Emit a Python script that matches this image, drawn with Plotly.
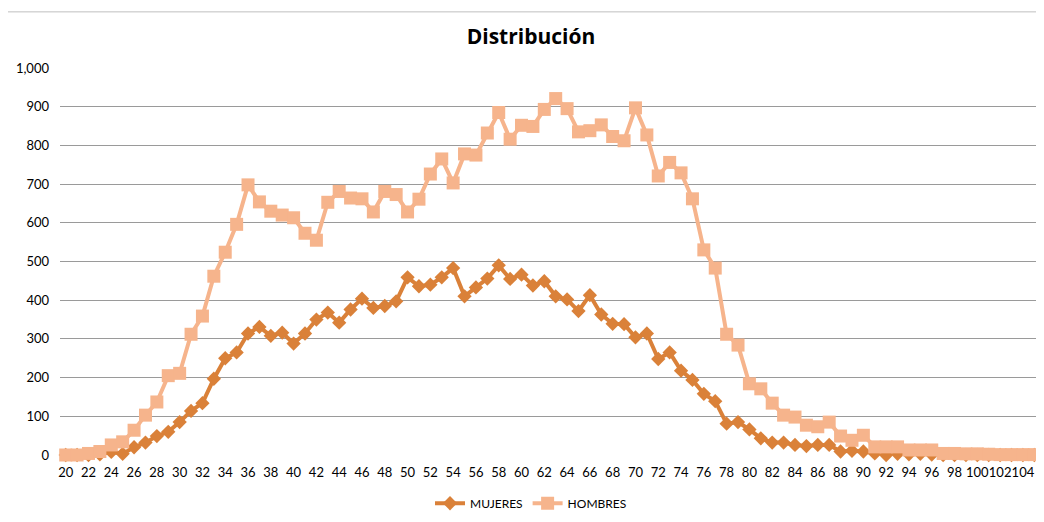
import plotly.graph_objects as go

# Ages (x categories)
ages = [20, 21, 22, 23, 24, 25, 26, 27, 28, 29,
        30, 31, 32, 33, 34, 35, 36, 37, 38, 39,
        40, 41, 42, 43, 44, 45, 46, 47, 48, 49,
        50, 51, 52, 53, 54, 55, 56, 57, 58, 59,
        60, 61, 62, 63, 64, 65, 66, 67, 68, 69,
        70, 71, 72, 73, 74, 75, 76, 77, 78, 79,
        80, 81, 82, 83, 84, 85, 86, 87, 88, 89,
        90, 91, 92, 93, 94, 95, 96, 97, 98, 99,
        100, 101, 102, 103, 104, 105]

mujeres = [0, 0, 0, 2, 8, 3, 20, 32, 49, 60,
           85, 114, 134, 197, 250, 265, 314, 331, 308, 316,
           288, 314, 350, 368, 342, 376, 404, 380, 385, 397,
           459, 436, 440, 459, 483, 410, 433, 456, 490, 455,
           466, 438, 449, 410, 402, 372, 413, 363, 339, 338,
           304, 314, 248, 265, 218, 194, 158, 139, 81, 85,
           66, 43, 32, 32, 26, 23, 26, 26, 9, 11,
           9, 4, 0, 3, 2, 3, 1, 0, 0, 0,
           0, 0, 0, 0, 0, 0]

hombres = [0, 0, 4, 9, 26, 34, 64, 103, 137, 205,
           211, 312, 359, 462, 524, 596, 698, 654, 630, 620,
           613, 573, 555, 653, 681, 664, 662, 628, 681, 673,
           628, 661, 726, 765, 703, 778, 775, 832, 885, 816,
           852, 849, 893, 921, 895, 835, 838, 853, 823, 812,
           897, 827, 721, 756, 729, 662, 530, 483, 312, 284,
           184, 171, 134, 103, 98, 77, 73, 85, 49, 38,
           51, 21, 21, 21, 13, 13, 13, 4, 4, 3,
           3, 2, 1, 1, 1, 1]

x_ticks = [20, 22, 24, 26, 28, 30, 32, 34, 36, 38, 40, 42, 44, 46, 48, 50,
           52, 54, 56, 58, 60, 62, 64, 66, 68, 70, 72, 74, 76, 78, 80, 82,
           84, 86, 88, 90, 92, 94, 96, 98, 100, 102, 104]

fig = go.Figure()

fig.add_trace(go.Scatter(
    x=ages, y=mujeres, name="MUJERES", mode="lines+markers",
    line=dict(color="#DA8139", width=4),
    marker=dict(symbol="diamond", size=11, color="#DA8139"),
    cliponaxis=False
))

fig.add_trace(go.Scatter(
    x=ages, y=hombres, name="HOMBRES", mode="lines+markers",
    line=dict(color="#F6B48C", width=4),
    marker=dict(symbol="square", size=13, color="#F6B48C"),
    cliponaxis=False
))

plot_h = 393

# chart frame (only top/left visible in the picture)
fig.add_shape(type="rect", xref="paper", yref="paper",
              x0=(5 - 60) / 980, x1=1.2, y0=-0.5, y1=(458 - 8) / plot_h,
              line=dict(color="#BFBFBF", width=1), layer="below")

# the page body adds an 8px offset, so the figure is 8px smaller than the window
fig.update_layout(
    width=1036, height=514,
    margin=dict(l=52, r=4, t=60, b=61),
    paper_bgcolor="white", plot_bgcolor="white",
    font=dict(family="Lato, sans-serif", size=13, color="#000000"),
    title=dict(text="<b>Distribución</b>", x=(531 - 8) / 1036, xanchor="center",
               y=1 - 29 / 514, yanchor="middle",
               font=dict(family="Open Sans, sans-serif", size=21, color="#000000")),
    xaxis=dict(range=[19.5, 105.5], tickvals=x_ticks, showgrid=False,
               zeroline=False, showline=False, ticks="",
               tickfont=dict(size=13), tickangle=0, ticklabelstandoff=8),
    yaxis=dict(range=[0, 1000], dtick=100, tickformat=",", showgrid=True,
               gridcolor="#9A9A9A", gridwidth=1, zeroline=False,
               showline=False, ticks="", tickfont=dict(size=13),
               ticklabelstandoff=10),
    legend=dict(orientation="h", x=(531 - 60) / 980, xanchor="center",
                y=(458 - 507) / plot_h, yanchor="middle",
                font=dict(size=12), itemwidth=30),
    showlegend=True
)

fig.write_html("out.html")
